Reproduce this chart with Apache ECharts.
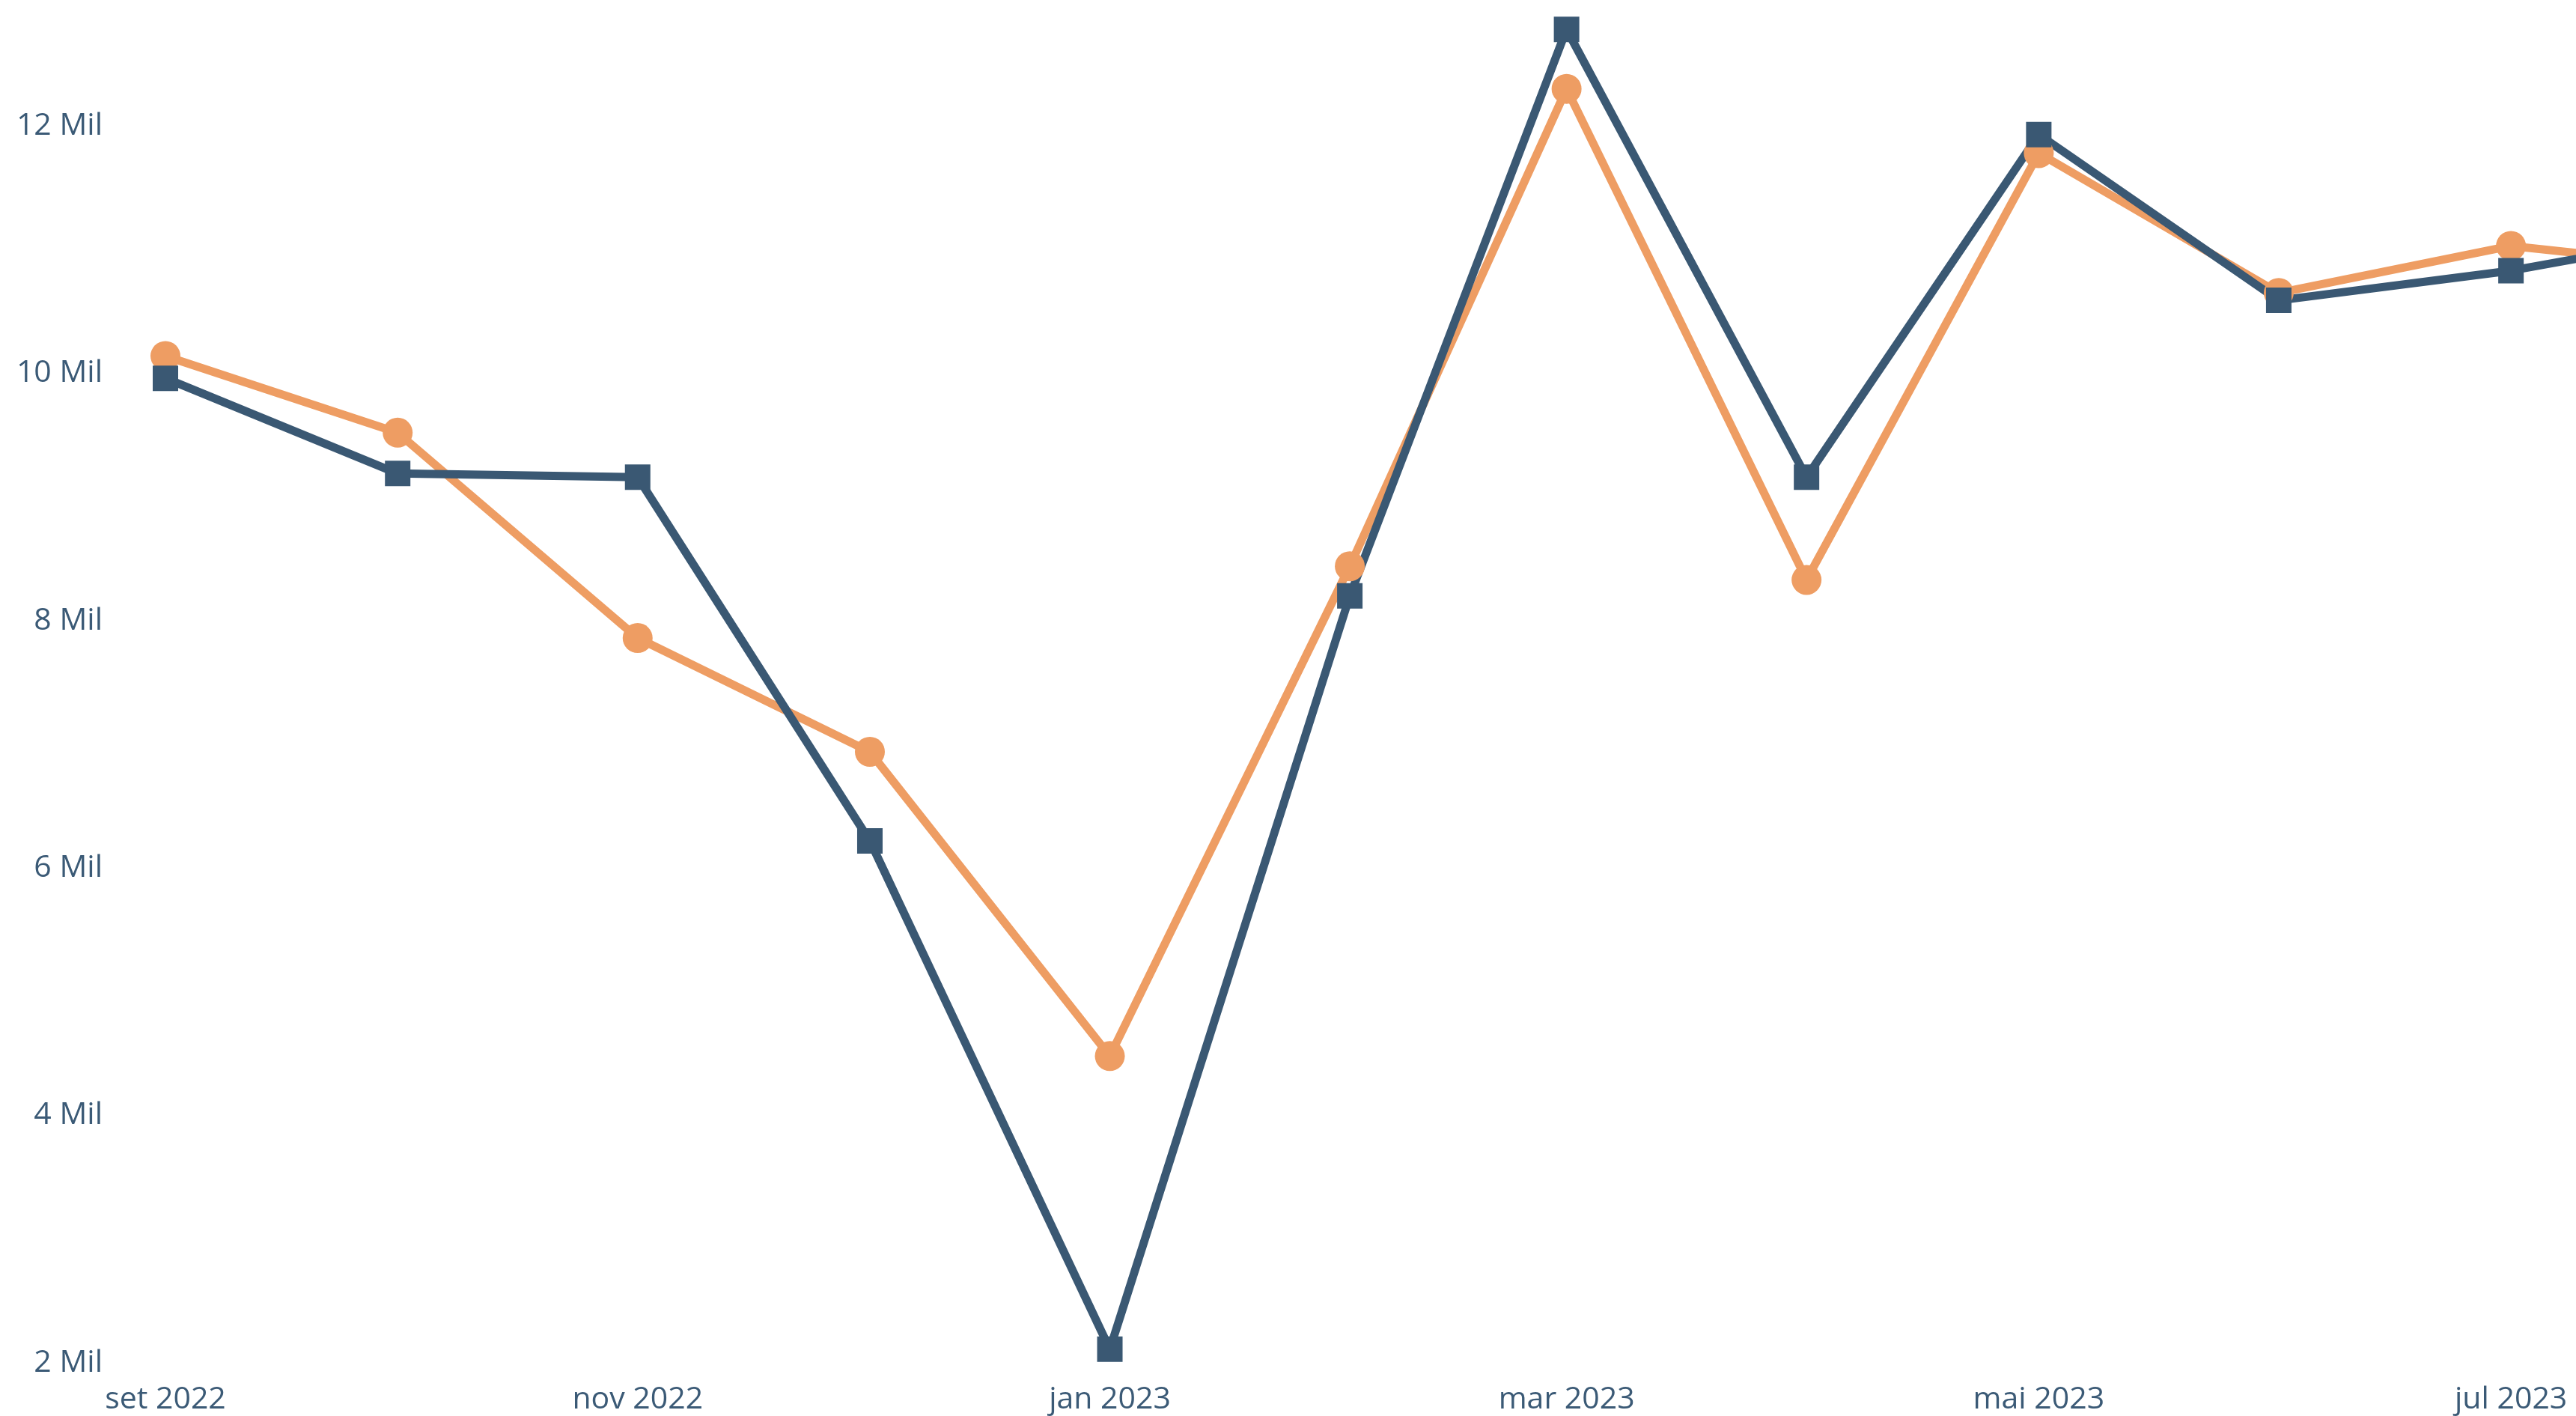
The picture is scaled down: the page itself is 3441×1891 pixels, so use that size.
<!DOCTYPE html>
<html>
<head>
<meta charset="utf-8">
<title>Mensal</title>
<script src="https://cdn.jsdelivr.net/npm/echarts@6/dist/echarts.min.js"></script>
<style>
  html, body { margin: 0; padding: 0; background: #fff; overflow: hidden; }
  #chart { width: 3441px; height: 1891px; }
</style>
</head>
<body>
<div id="chart"></div>
<script>
// months of the series (first day of month)
const months = ['2022-09', '2022-10', '2022-11', '2022-12', '2023-01', '2023-02',
  '2023-03', '2023-04', '2023-05', '2023-06', '2023-07', '2023-08']
const orangeValues = [10140000, 9520000, 7860000, 6940000, 4480000, 8440000,
  12300000, 8330000, 11780000, 10650000, 11030000, 10820000]
const blueValues = [9960000, 9190000, 9160000, 6220000, 2110000, 8200000,
  12780000, 9160000, 11930000, 10590000, 10830000, 11180000]
const tickMonths = ['2022-09', '2022-11', '2023-01', '2023-03', '2023-05', '2023-07']
const tickLabels = ['set 2022', 'nov 2022', 'jan 2023', 'mar 2023', 'mai 2023', 'jul 2023']

// day number since the first month, so month lengths are kept
const DAY = 24 * 3600 * 1000
const toDay = s => {
  const [y, m] = s.split('-').map(Number)
  return Math.round((Date.UTC(y, m - 1, 1) - Date.UTC(2022, 8, 1)) / DAY)
}
const monthDays = months.map(toDay)
const tickDays = tickMonths.map(toDay)
// the visible window ends a few days into july, the last month runs off the edge
const xMaxDay = 311.4

const labelColor = '#3b5a76'
const font = "'Segoe UI', 'Open Sans', sans-serif"

const myChart = echarts.init(document.getElementById('chart'))
myChart.setOption({
  animation: false,
  grid: {
    left: 221,
    right: 0,
    top: 3,
    bottom: 71,
    containLabel: false
  },
  xAxis: {
    type: 'value',
    min: monthDays[0],
    max: xMaxDay,
    axisLine: { show: false },
    axisTick: { show: false },
    splitLine: { show: false },
    axisLabel: {
      customValues: tickDays,
      margin: 29,
      color: labelColor,
      fontFamily: font,
      fontSize: 41,
      formatter: value => {
        const i = tickDays.indexOf(value)
        return i >= 0 ? tickLabels[i] : ''
      }
    }
  },
  yAxis: {
    type: 'value',
    min: 2000000,
    max: 13000000,
    interval: 2000000,
    axisLine: { show: false },
    axisTick: { show: false },
    splitLine: { show: false },
    axisLabel: {
      margin: 84,
      color: labelColor,
      fontFamily: font,
      fontSize: 41,
      showMaxLabel: false,
      formatter: v => (v / 1000000) + ' Mil'
    }
  },
  series: [
    {
      name: 'Orange',
      type: 'line',
      clip: true,
      data: monthDays.map((d, i) => [d, orangeValues[i]]),
      symbol: 'circle',
      symbolSize: 40,
      lineStyle: { color: '#ee9d63', width: 11 },
      itemStyle: { color: '#ee9d63' }
    },
    {
      name: 'Blue',
      type: 'line',
      clip: true,
      data: monthDays.map((d, i) => [d, blueValues[i]]),
      symbol: 'rect',
      symbolSize: 34,
      lineStyle: { color: '#3a5873', width: 11 },
      itemStyle: { color: '#3a5873' }
    }
  ]
})
</script>
</body>
</html>
